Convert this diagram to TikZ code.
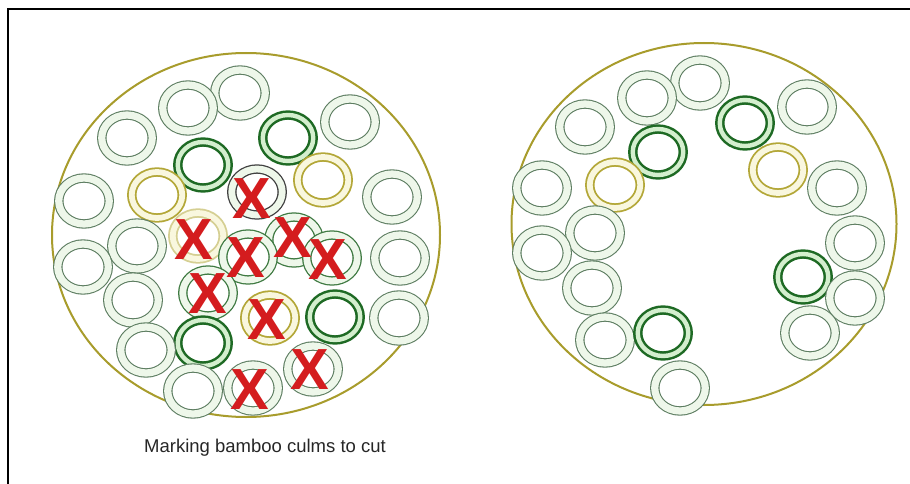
\documentclass[tikz,border=0pt]{standalone}
\usepackage{fontspec}
\setmainfont{Liberation Sans}
\usepackage{xcolor}
\usepackage{tikz}
\usetikzlibrary{shapes.geometric}
\definecolor{oldline}{HTML}{5E7E62}
\definecolor{oldband}{HTML}{EEF7EA}
\definecolor{youngline}{HTML}{1E6A24}
\definecolor{youngband}{HTML}{D4EFCE}
\definecolor{midline}{HTML}{B3A738}
\definecolor{midband}{HTML}{F9F7DE}
\definecolor{cutline}{HTML}{3F7A42}
\definecolor{clump}{HTML}{A89C2C}
\definecolor{markred}{HTML}{D41C1E}

\begin{document}
\begin{tikzpicture}[
    x=1pt, y=-1pt,
    culm/.style={ellipse, fill=white, minimum width=50.5pt, minimum height=46pt, inner sep=0pt},
    oldculm/.style={culm, draw=oldline, line width=1.1pt, double=oldband, double distance=7.2pt},
    youngculm/.style={culm, draw=youngline, line width=2.5pt, double=youngband, double distance=4.4pt},
    midculm/.style={culm, draw=midline, line width=1.8pt, double=midband, double distance=5.8pt},
    cutculm/.style={culm, draw=cutline, line width=1.3pt, double=oldband, double distance=6.8pt},
    clumpline/.style={ellipse, draw=clump, line width=2pt, fill=white, inner sep=0pt},
    xmark/.style={text=markred, font=\fontsize{58}{58}\selectfont\bfseries, inner sep=0pt}
]
\useasboundingbox (0,0) rectangle (910,484);
\draw[line width=2.4pt] (8,484) -- (8,9) -- (910,9);

\node[clumpline, minimum width=388pt, minimum height=364pt] (left) at (246,235) {};
\node[clumpline, minimum width=385pt, minimum height=362pt] (right) at (704,224) {};

\node[oldculm] (l1) at (240,93) {};
\node[oldculm] (l2) at (188,108) {};
\node[oldculm] (l3) at (127,138) {};
\node[oldculm] (l4) at (350,122) {};
\node[youngculm] (l5) at (288,138) {};
\node[youngculm] (l6) at (203,165) {};
\node[midculm] (l7) at (157,195) {};
\node[midculm] (l8) at (323,180) {};
\node[oldculm] (l9) at (84,201) {};
\node[oldculm] (l10) at (392,197) {};
\node[cutculm, draw=black!75] (l11) at (257,192) {};
\node[midculm, draw=midline!55] (l12) at (198,236) {};
\node[oldculm] (l13) at (137,246) {};
\node[oldculm] (l14) at (83,267) {};
\node[cutculm] (l16) at (294,240) {};
\node[cutculm] (l15) at (248,257) {};
\node[cutculm] (l17) at (332,258) {};
\node[oldculm] (l18) at (400,258) {};
\node[cutculm] (l19) at (208,293) {};
\node[oldculm] (l20) at (133,300) {};
\node[midculm] (l21) at (270,318) {};
\node[youngculm] (l22) at (335,317) {};
\node[oldculm] (l23) at (399,318) {};
\node[youngculm] (l24) at (203,343) {};
\node[oldculm] (l25) at (146,350) {};
\node[oldculm] (l26) at (193,391) {};
\node[oldculm] (l27) at (253,388) {};
\node[oldculm] (l28) at (313,369) {};

\node[xmark] (x1) at (252,199) {X};
\node[xmark] (x2) at (194,240) {X};
\node[xmark] (x3) at (293,238) {X};
\node[xmark] (x4) at (246,258) {X};
\node[xmark] (x5) at (328,260) {X};
\node[xmark] (x6) at (208,294) {X};
\node[xmark] (x7) at (267,320) {X};
\node[xmark] (x8) at (310,370) {X};
\node[xmark] (x9) at (250,390) {X};

\node[font=\fontsize{18.5}{18.5}\selectfont, text=black!85] (caption) at (265,448) {Marking bamboo culms to cut};

\node[oldculm] (r1) at (700,83) {};
\node[oldculm] (r2) at (647,98) {};
\node[oldculm] (r3) at (585,127) {};
\node[oldculm] (r4) at (807,107) {};
\node[youngculm] (r5) at (745,123) {};
\node[youngculm] (r6) at (658,152) {};
\node[midculm] (r7) at (615,185) {};
\node[midculm] (r8) at (778,170) {};
\node[oldculm] (r9) at (542,188) {};
\node[oldculm] (r10) at (837,188) {};
\node[oldculm] (r11) at (595,233) {};
\node[oldculm] (r12) at (542,253) {};
\node[oldculm] (r13) at (855,243) {};
\node[youngculm] (r14) at (803,277) {};
\node[oldculm] (r15) at (592,288) {};
\node[oldculm] (r16) at (855,298) {};
\node[oldculm] (r17) at (605,340) {};
\node[youngculm] (r18) at (663,333) {};
\node[oldculm] (r19) at (810,333) {};
\node[oldculm] (r20) at (680,388) {};

\end{tikzpicture}
\end{document}
